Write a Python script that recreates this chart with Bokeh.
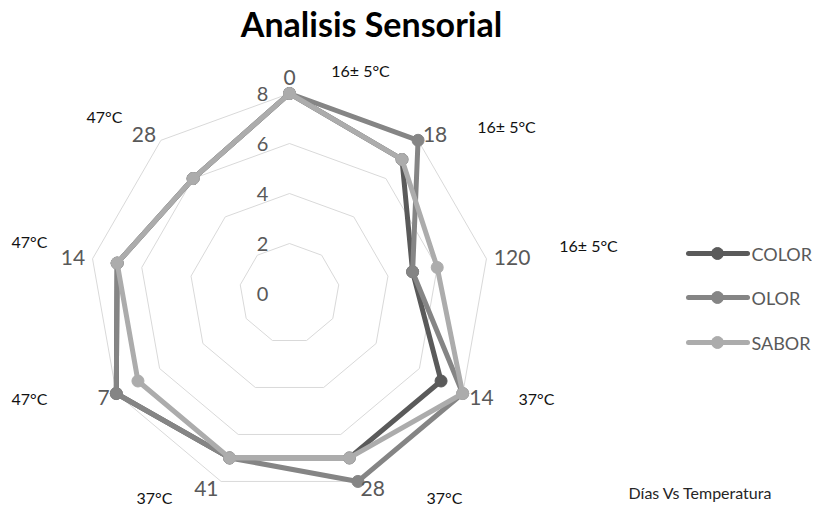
import numpy as np
from bokeh.plotting import figure
from bokeh.models import Range1d
from bokeh.core.properties import value
from bokeh.embed import file_html
from bokeh.resources import INLINE

# ---------------- data ----------------
categories = ["0", "18", "120", "14", "28", "41", "7", "14", "28"]
temperatures = ["16\u00b1 5\u00b0C", "16\u00b1 5\u00b0C", "16\u00b1 5\u00b0C",
                "37\u00b0C", "37\u00b0C", "37\u00b0C",
                "47\u00b0C", "47\u00b0C", "47\u00b0C"]
series_names = ["COLOR", "OLOR", "SABOR"]
color_vals = [8, 7, 5, 7, 7, 7, 8, 7, 6]
olor_vals = [8, 8, 5, 8, 8, 7, 8, 7, 6]
sabor_vals = [8, 7, 6, 8, 7, 7, 7, 7, 6]
ring_ticks = [0, 2, 4, 6, 8]
title_text = "Analisis Sensorial"
footer_text = "D\u00edas Vs Temperatura"

# ---------------- layout ----------------
W, H = 812, 507
DX, DY = -2, -5            # shift of the reference layout into the figure
CX, CY = 291 + DX, 298 + DY  # centre in figure pixels
UNIT = 25.0                # pixels per value unit
FONT = "Lato"

def px(xi, yi):
    """reference pixel -> data coordinate"""
    return (xi + DX - CX) / UNIT, (CY - (yi + DY)) / UNIT

x0, y1 = (0 - CX) / UNIT, CY / UNIT
x1, y0 = (W - CX) / UNIT, (CY - H) / UNIT

p = figure(width=W, height=H, output_backend="svg", toolbar_location=None,
           x_range=Range1d(x0, x1), y_range=Range1d(y0, y1),
           min_border=0, outline_line_color=None)
p.axis.visible = False
p.grid.visible = False
p.background_fill_color = "white"
p.border_fill_color = "white"

n = len(categories)
ang = np.arange(n) * 2 * np.pi / n

def to_xy(vals):
    v = np.asarray(vals, dtype=float)
    return v * np.sin(ang), v * np.cos(ang)

# grid rings
for t in ring_ticks[1:]:
    gx, gy = to_xy([t] * n)
    p.line(list(gx) + [gx[0]], list(gy) + [gy[0]], line_color="#d9d9d9", line_width=1)

# ring labels
for t in ring_ticks:
    lx, ly = -0.85, t
    p.text(x=[lx], y=[ly], text=[str(t)], text_align="right", text_baseline="middle",
           text_font=value(FONT), text_font_size="20px", text_color="#595959")

# series
colors = ["#5a5a5a", "#858585", "#acacac"]
for vals, c in zip([color_vals, olor_vals, sabor_vals], colors):
    sx, sy = to_xy(vals)
    p.line(list(sx) + [sx[0]], list(sy) + [sy[0]], line_color=c, line_width=5,
           line_join="round")
    p.scatter(sx, sy, size=12, fill_color=c, line_color=c, marker="circle")

# category labels
lab_r = 8.3
for i, cat in enumerate(categories):
    a = ang[i]
    lx, ly = lab_r * np.sin(a), lab_r * np.cos(a)
    s = np.sin(a)
    if abs(s) < 0.1:
        align, base = "center", "bottom"
        ly = lab_r + 0.05
    elif s > 0:
        align, base = "left", "middle"
    else:
        align, base = "right", "middle"
    p.text(x=[lx], y=[ly], text=[cat], text_align=align, text_baseline=base,
           text_font=value(FONT), text_font_size="21px", text_color="#595959")

# temperature annotations (reference pixel positions of text centres)
temp_pos = [(362, 75), (508, 131), (590, 250), (538, 403), (446, 502),
            (156, 502), (31, 403), (31, 246), (106, 121)]
for txt, (xi, yi) in zip(temperatures, temp_pos):
    tx, ty = px(xi, yi)
    p.text(x=[tx], y=[ty], text=[txt], text_align="center", text_baseline="middle",
           text_font=value(FONT), text_font_size="16px", text_color="#111111")

# title
tx, ty = px(373, 28)
p.text(x=[tx], y=[ty], text=[title_text], text_align="center", text_baseline="middle",
       text_font=value(FONT), text_font_size="34px", text_font_style="bold",
       text_color="#000000")

# legend (manual)
leg_y = [258, 302, 347]
for name, c, yi in zip(series_names, colors, leg_y):
    ax_, ay_ = px(690, yi)
    bx_, by_ = px(749, yi)
    mx_, my_ = px(719, yi)
    p.line([ax_, bx_], [ay_, by_], line_color=c, line_width=5, line_cap="round")
    p.scatter([mx_], [my_], size=12, fill_color=c, line_color=c)
    lx, ly = px(753, yi)
    p.text(x=[lx], y=[ly], text=[name], text_align="left", text_baseline="middle",
           text_font=value(FONT), text_font_size="18px", text_color="#595959")

# footer
fx, fy = px(702, 497)
p.text(x=[fx], y=[fy], text=[footer_text], text_align="center", text_baseline="middle",
       text_font=value(FONT), text_font_size="16px", text_color="#262626")

open("out.html", "w").write(file_html(p, INLINE))
